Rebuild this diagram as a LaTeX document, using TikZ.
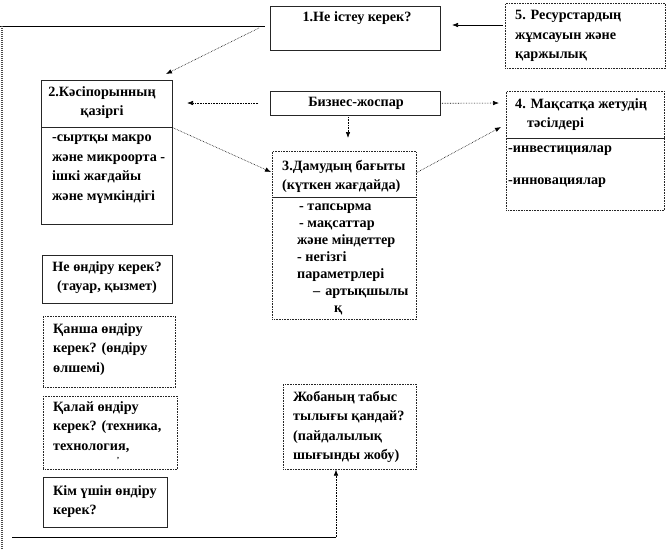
\documentclass[tikz,border=0pt]{standalone}
\usepackage{fontspec}
\setmainfont{Liberation Serif}
\usetikzlibrary{arrows.meta}
\begin{document}
\begin{tikzpicture}[x=1pt,y=-1pt,
  bx/.style={draw=black!85, line width=0.6pt, inner sep=0pt, anchor=north west},
  dbx/.style={bx, densely dotted},
  tx/.style={inner sep=0pt, anchor=north west, align=left, font=\fontsize{14.2}{19.5}\selectfont\bfseries},
  txb/.style={tx, font=\fontsize{14.2}{17}\selectfont\bfseries},
  div/.style={draw=black!85, line width=0.6pt},
  arr/.style={line width=0.6pt, -{Latex[length=6pt,width=4.5pt]}},
  darr/.style={arr, densely dotted},
  solidln/.style={line width=0.8pt},
  leftln/.style={draw=black!70, line width=2.4pt, dash pattern=on 1pt off 1pt}]
\useasboundingbox (0,0) rectangle (666,550);

% boxes
\node[bx, minimum width=170pt, minimum height=44pt] (b1) at (270,6) {};
\node[tx, anchor=north] (t1) at (357,11) {1.Не істеу керек?};

\node[dbx, minimum width=160pt, minimum height=65pt] (b5) at (505,3) {};
\node[tx] (t5) at (515,10) {5. Ресурстардың\\жұмсауын және\\қаржылық};

\node[bx, minimum width=170pt, minimum height=24pt] (bz) at (270,91) {};
\node[tx, anchor=center] (tbz) at (356,103) {Бизнес-жоспар};

\node[bx, minimum width=131pt, minimum height=47pt] (b2h) at (41,80) {};
\node[bx, minimum width=131pt, minimum height=97pt] (b2b) at (41,127) {};
\node[tx, anchor=north, align=center] (t2h) at (102,86) {2.Кәсіпорынның\\қазіргі};
\node[tx] (t2b) at (52,135) {-сыртқы макро\\және микроорта -\\ішкі жағдайы\\және мүмкіндігі};

\node[dbx, minimum width=144pt, minimum height=46pt] (b3h) at (272,151) {};
\node[dbx, minimum width=144pt, minimum height=122pt] (b3b) at (272,197) {};
\draw[div] (b3h.south west) -- (b3h.south east);
\node[tx] (t3h) at (282,160) {3.Дамудың бағыты\\(күткен жағдайда)};
\node[txb] (t3b) at (297,204) {\hspace*{2pt}- тапсырма\\\hspace*{2pt}- мақсаттар\\және міндеттер\\- негізгі\\параметрлері\\\hspace*{16pt}–\hspace*{5pt}артықшылы\\\hspace*{37pt}қ};

\node[dbx, minimum width=158pt, minimum height=47pt] (b4h) at (506,91) {};
\node[dbx, minimum width=158pt, minimum height=72pt] (b4b) at (506,138) {};
\draw[div] (b4h.south west) -- (b4h.south east);
\node[tx] (t4h) at (515,98) {4. Мақсатқа жетудің\\\hspace*{12pt}тәсілдері};
\node[tx] (t4a) at (508,146) {-инвестициялар};
\node[tx] (t4c) at (508,178) {-инновациялар};

\node[bx, minimum width=130pt, minimum height=48pt] (n1) at (42,255) {};
\node[tx, anchor=north, align=center] (tn1) at (107,261) {Не өндіру керек?\\(тауар, қызмет)};

\node[dbx, minimum width=132pt, minimum height=71pt] (n2) at (43,316) {};
\node[tx] (tn2) at (53,323) {Қанша өндіру\\керек? (өндіру\\өлшемі)};

\node[dbx, minimum width=134pt, minimum height=73pt] (n3) at (43,396) {};
\node[tx] (tn3) at (53,401) {Қалай өндіру\\керек? (техника,\\технология,};
\node[inner sep=0pt, font=\fontsize{8}{8}\selectfont\bfseries] (tn3x) at (118,459) {,};

\node[bx, minimum width=124pt, minimum height=50pt] (n4) at (43,477) {};
\node[tx] (tn4) at (53,485) {Кім үшін өндіру\\керек?};

\node[dbx, minimum width=133pt, minimum height=85pt] (pj) at (283,384) {};
\node[tx] (tpj) at (293,391) {Жобаның табыс\\тылығы қандай?\\(пайдалылық\\шығынды жобу)};

% connectors
\coordinate (tl) at (0,26);
\coordinate (tr) at (265,26);
\coordinate (lb) at (2,550);
\coordinate (lt) at (2,26);
\draw[solidln] (tl) -- (tr);
\draw[leftln] (lt) -- (lb);

\coordinate (d1) at (259,28);
\coordinate (d2) at (166,74);
\draw[darr] (d1) -- (d2);

\coordinate (a5s) at (503,25);
\coordinate (a5e) at (452,25);
\draw[arr] (a5s) -- (a5e);

\coordinate (bzl) at (258,103);
\coordinate (bzle) at (187,103);
\draw[darr] (bzl) -- (bzle);
\coordinate (bzre) at (499,103);
\draw[darr] (bz.east) -- (bzre);
\coordinate (bzd) at (348,117);
\coordinate (bzde) at (348,138);
\draw[darr] (bzd) -- (bzde);

\coordinate (a23e) at (271,172);
\draw[darr] (b2h.south east) -- (a23e);
\coordinate (a34s) at (416,173);
\coordinate (a34e) at (501,127);
\draw[darr] (a34s) -- (a34e);

\coordinate (bl) at (12,537);
\coordinate (br) at (336,537);
\draw[solidln] (bl) -- (br);
\draw[darr] (br) -- (pj.south -| br);
\end{tikzpicture}
\end{document}
